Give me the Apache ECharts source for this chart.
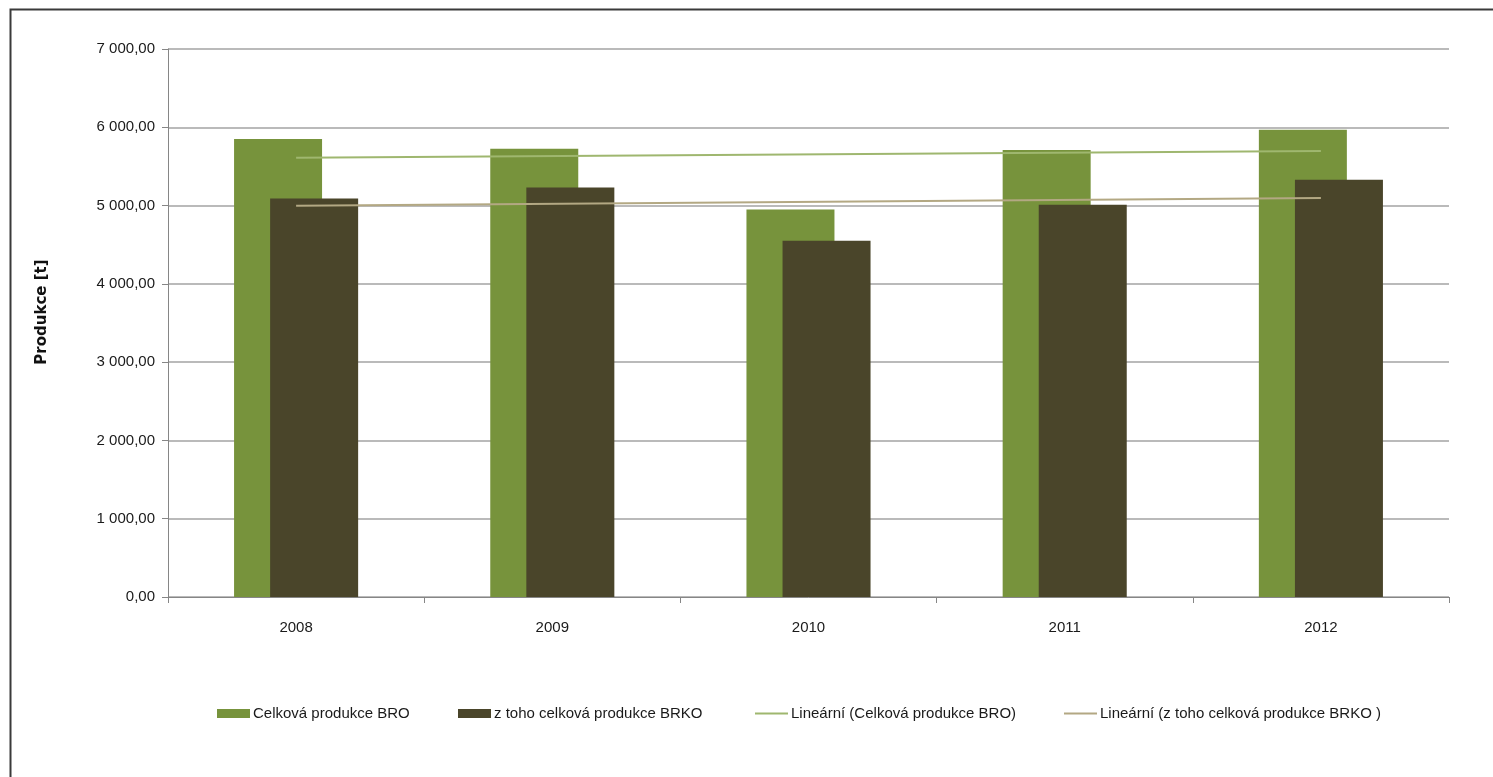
<!DOCTYPE html>
<html>
<head>
<meta charset="utf-8">
<script src="https://cdn.jsdelivr.net/npm/echarts@6/dist/echarts.min.js"></script>
<style>
html,body{margin:0;padding:0;background:#fff;}
#c{width:1493px;height:777px;}
</style>
</head>
<body>
<div id="c"></div>
<script>
const years = ['2008', '2009', '2010', '2011', '2012'];
const celkovaBRO = [5850, 5725, 4950, 5710, 5970];
const brko = [5090, 5230, 4550, 5010, 5330];
const trendBRO = [5610, null, null, null, 5697];
const trendBRKO = [4998, null, null, null, 5096];
const yTickLabels = ['0,00', '1 000,00', '2 000,00', '3 000,00', '4 000,00', '5 000,00', '6 000,00', '7 000,00'];
const seriesNames = ['Celková produkce BRO', 'z toho celková produkce BRKO', 'Lineární (Celková produkce BRO)', 'Lineární (z toho celková produkce BRKO )'];
const yAxisTitle = 'Produkce [t]';

const FONT = "'Liberation Sans', Arial, sans-serif";
const chart = echarts.init(document.getElementById('c'), null, {renderer: 'canvas'});

const legendLefts = [217, 458, 755, 1064];
const legends = seriesNames.map((n, i) => ({
  data: [{name: n, icon: 'rect'}],
  left: legendLefts[i],
  top: 706,
  padding: 0,
  itemWidth: 33,
  itemHeight: i < 2 ? 9 : 2,
  itemGap: 0,
  textStyle: {fontFamily: FONT, fontSize: 15, color: '#1a1a1a', padding: [0, 0, 0, -2]},
  selectedMode: false
}));

chart.setOption({
  animation: false,
  backgroundColor: '#ffffff',
  graphic: [{
    type: 'rect',
    left: 8, top: 7,
    shape: {width: 1500, height: 800},
    style: {fill: 'none', stroke: '#3a3a3a', lineWidth: 2},
    silent: true, z: -1
  }, {
    type: 'text',
    x: 42, y: 312,
    rotation: Math.PI / 2,
    style: {
      text: yAxisTitle,
      fontFamily: "'DejaVu Sans', Verdana, sans-serif",
      fontWeight: 'bold', fontSize: 15, fill: '#111',
      align: 'center', verticalAlign: 'middle'
    },
    silent: true
  }],
  grid: {left: 168, right: 44, top: 49, bottom: 180, containLabel: false},
  legend: legends,
  xAxis: {
    type: 'category',
    data: years,
    boundaryGap: true,
    axisLine: {lineStyle: {color: '#868686', width: 1}},
    axisTick: {show: true, length: 6, lineStyle: {color: '#868686'}},
    axisLabel: {fontFamily: FONT, fontSize: 15, color: '#1a1a1a', margin: 23}
  },
  yAxis: {
    type: 'value',
    min: 0, max: 7000, interval: 1000,
    axisLine: {show: true, lineStyle: {color: '#868686', width: 1}},
    axisTick: {show: true, length: 6, lineStyle: {color: '#868686'}},
    axisLabel: {
      fontFamily: FONT, fontSize: 15, color: '#1a1a1a', margin: 13,
      formatter: v => yTickLabels[Math.round(v / 1000)]
    },
    splitLine: {show: true, lineStyle: {color: '#a3a3a3', width: 1.5}}
  },
  series: [
    {
      name: seriesNames[0], type: 'bar', data: celkovaBRO,
      barWidth: 88, barGap: '-59%',
      itemStyle: {color: '#77933c'}
    },
    {
      name: seriesNames[1], type: 'bar', data: brko,
      barWidth: 88,
      itemStyle: {color: '#4a452a'}
    },
    {
      name: seriesNames[2], type: 'line', data: trendBRO, connectNulls: true,
      symbol: 'none', showSymbol: false, z: 5,
      lineStyle: {color: '#9fb76f', width: 2},
      itemStyle: {color: '#9fb76f'}
    },
    {
      name: seriesNames[3], type: 'line', data: trendBRKO, connectNulls: true,
      symbol: 'none', showSymbol: false, z: 5,
      lineStyle: {color: '#b3a883', width: 2},
      itemStyle: {color: '#b3a883'}
    }
  ]
});
</script>
</body>
</html>
